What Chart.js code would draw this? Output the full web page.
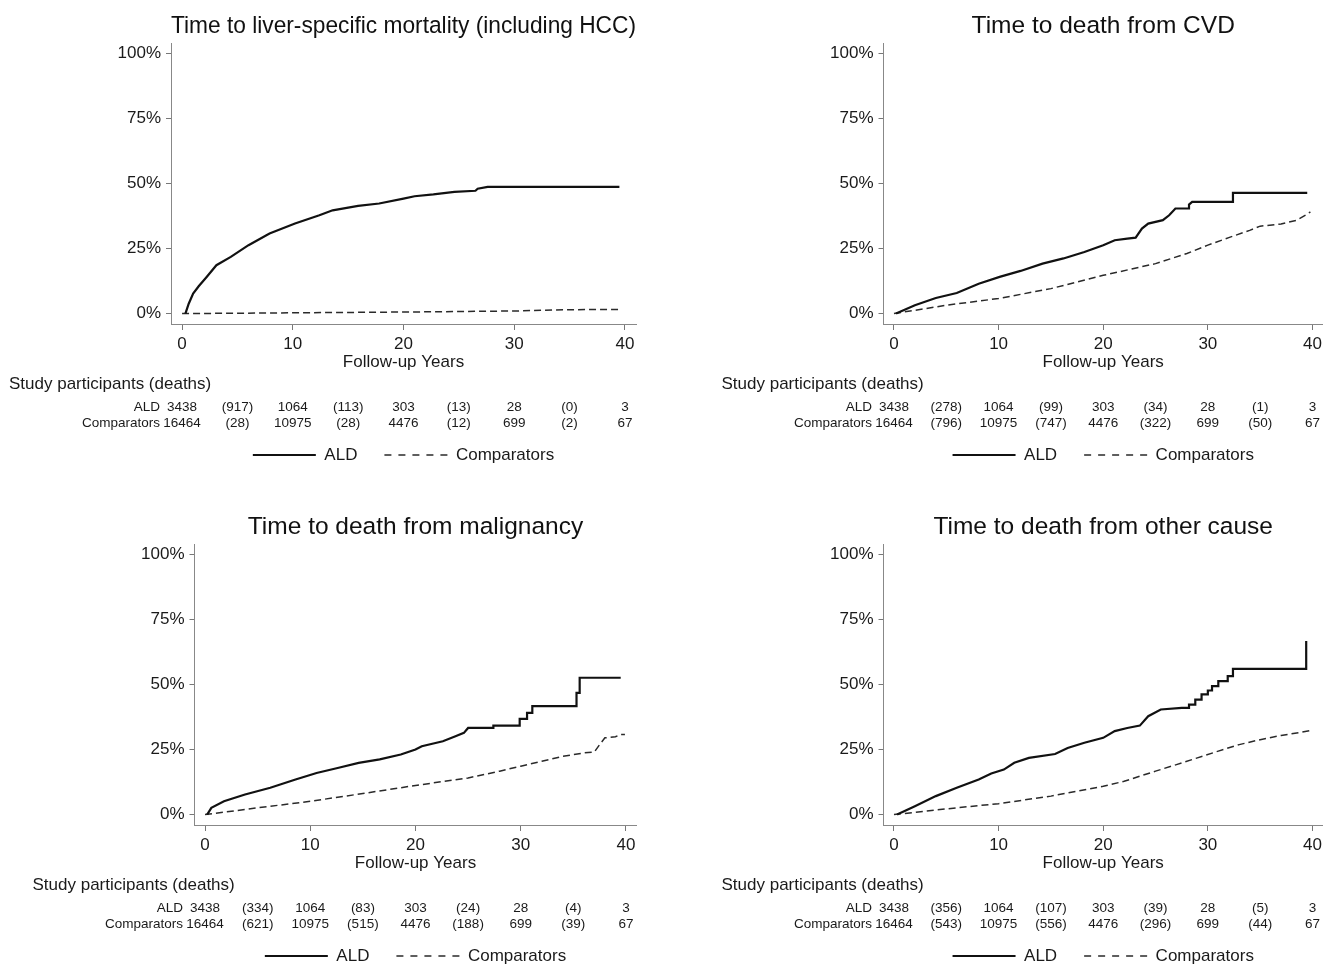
<!DOCTYPE html>
<html>
<head>
<meta charset="utf-8">
<script src="https://cdn.jsdelivr.net/npm/chart.js@4"></script>
<style>
  html, body { margin: 0; padding: 0; background: #fff; overflow: hidden; }
  body { width: 1326px; height: 964px; position: relative; }
  .panel { position: absolute; width: 663px; height: 501px; }
</style>
</head>
<body>
<div class="panel" style="left:0;top:0"><canvas id="liverChart" width="663" height="501"></canvas></div>
<div class="panel" style="left:663px;top:0"><canvas id="cvdChart" width="663" height="501"></canvas></div>
<div class="panel" style="left:0;top:501px"><canvas id="malChart" width="663" height="501"></canvas></div>
<div class="panel" style="left:663px;top:501px"><canvas id="othChart" width="663" height="501"></canvas></div>
<script>
// axis ticks
let xTickValues = [0, 10, 20, 30, 40];
let yTickValues = [0, 25, 50, 75, 100];

// numbers at risk / deaths
let riskYears = [0, 10, 20, 30, 40];
let deathYears = [5, 15, 25, 35];
let aldAtRisk = [3438, 1064, 303, 28, 3];
let compAtRisk = [16464, 10975, 4476, 699, 67];

// liver-specific mortality
let liverAldYears = [0.3, 0.6, 1.0, 1.5, 2.2, 3.1, 4.4, 6.0, 7.9, 10.2, 12.4, 13.6, 15.9, 17.8, 20.0, 21.0, 22.7, 24.6, 26.5, 26.7, 27.6, 39.5];
let liverAldPct = [0, 3.8, 7.7, 10.5, 14.0, 18.6, 21.8, 26.3, 30.8, 34.6, 37.8, 39.7, 41.4, 42.3, 44.2, 45.1, 45.8, 46.8, 47.2, 48.0, 48.7, 48.7];
let liverCompYears = [0, 5, 10, 15, 20, 25, 30, 35, 39.7];
let liverCompPct = [0, 0.15, 0.3, 0.45, 0.6, 0.8, 1.0, 1.5, 1.6];
let liverAldDeaths = [917, 113, 13, 0];
let liverCompDeaths = [28, 28, 12, 2];

// CVD
let cvdAldYears = [0.2, 2.0, 4.0, 6.0, 8.1, 10.1, 12.1, 14.2, 16.2, 18.2, 20.0, 21.1, 22.3, 23.1, 23.7, 24.3, 25.7, 26.3, 26.9, 28.2, 28.2, 28.5, 32.4, 32.4, 39.5];
let cvdAldPct = [0, 3.2, 6.0, 7.9, 11.5, 14.1, 16.4, 19.2, 21.2, 23.7, 26.3, 28.2, 28.8, 29.2, 32.7, 34.6, 35.9, 37.8, 40.4, 40.4, 41.9, 42.9, 42.9, 46.4, 46.4];
let cvdCompYears = [0, 5, 10, 15, 20, 25, 28, 30, 32, 34, 35, 37, 38.5, 39.5, 39.8];
let cvdCompPct = [0, 3.2, 5.8, 9.6, 14.7, 19.2, 23.1, 26.3, 29.2, 32.0, 33.6, 34.4, 35.9, 38.2, 39.1];
let cvdAldDeaths = [278, 99, 34, 1];
let cvdCompDeaths = [796, 747, 322, 50];

// malignancy
let malAldYears = [0.2, 0.6, 1.8, 3.8, 6.2, 8.6, 10.6, 12.6, 14.6, 16.6, 18.6, 20.0, 20.6, 22.6, 23.8, 24.6, 25.0, 27.4, 27.4, 29.9, 29.9, 30.6, 30.6, 31.1, 31.1, 35.3, 35.3, 35.6, 35.6, 39.5];
let malAldPct = [0, 2.6, 5.1, 7.7, 10.3, 13.5, 16.0, 17.9, 19.9, 21.2, 23.1, 25.0, 26.3, 28.2, 30.1, 31.4, 33.3, 33.3, 34.2, 34.2, 36.8, 36.8, 39.1, 39.1, 41.7, 41.7, 46.8, 46.8, 52.6, 52.6];
let malCompYears = [0, 5, 10, 15, 20, 25, 28, 30, 32, 34, 36, 37, 37.5, 38, 39, 39.5, 39.9];
let malCompPct = [0, 2.6, 5.1, 8.1, 11.2, 14.1, 16.7, 18.6, 20.5, 22.4, 23.7, 24.1, 26.9, 29.5, 29.9, 30.8, 30.8];
let malAldDeaths = [334, 83, 24, 4];
let malCompDeaths = [621, 515, 188, 39];

// other cause
let othAldYears = [0.3, 2.0, 4.0, 6.0, 8.1, 9.3, 10.5, 11.5, 12.9, 15.4, 16.6, 18.2, 20.0, 21.1, 22.3, 23.5, 24.3, 25.5, 27.5, 28.2, 28.2, 28.8, 28.8, 29.4, 29.4, 30.0, 30.0, 30.4, 30.4, 31.0, 31.0, 31.9, 31.9, 32.4, 32.4, 39.4, 39.4];
let othAldPct = [0, 3.2, 7.1, 10.3, 13.5, 15.8, 17.3, 19.9, 21.8, 23.3, 25.6, 27.6, 29.5, 32.1, 33.3, 34.2, 37.8, 40.4, 41.0, 41.0, 42.3, 42.3, 44.2, 44.2, 46.2, 46.2, 47.7, 47.7, 49.4, 49.4, 51.3, 51.3, 53.2, 53.2, 56.0, 56.0, 66.7];
let othCompYears = [0, 5, 10, 15, 20, 22, 25, 27, 29, 31, 33, 35, 37, 39, 39.8];
let othCompPct = [0, 2.2, 4.2, 7.1, 10.9, 12.8, 16.7, 19.2, 21.8, 24.4, 26.9, 28.8, 30.4, 31.7, 32.3];
let othAldDeaths = [356, 107, 39, 5];
let othCompDeaths = [543, 556, 296, 44];

const FONT = '"Liberation Sans", Arial, sans-serif';
Chart.defaults.font.family = FONT;
Chart.defaults.color = "#1a1a1a";

const toPoints = (xs, ys) => xs.map((x, i) => ({ x: x, y: ys[i] }));

// numbers at risk table under the x axis
const riskTable = {
  id: "riskTable",
  afterDraw(chart, args, opts) {
    const ctx = chart.ctx;
    const area = chart.chartArea;
    const xs = chart.scales.x;
    const base = area.bottom;
    ctx.save();
    ctx.fillStyle = "#1a1a1a";
    ctx.textBaseline = "middle";
    ctx.textAlign = "left";
    ctx.font = "17px " + FONT;
    ctx.fillText("Study participants (deaths)", area.left - 162, base + 60);
    ctx.font = "13.5px " + FONT;
    const labelX = xs.getPixelForValue(riskYears[0]) - 22;
    const rows = [
      ["ALD", aldAtRisk, opts.aldDeaths],
      ["Comparators", compAtRisk, opts.compDeaths],
    ];
    rows.forEach(([name, atRisk, deaths], r) => {
      const y = base + 83 + r * 16;
      ctx.textAlign = "right";
      ctx.fillText(name, labelX, y);
      ctx.textAlign = "center";
      atRisk.forEach((n, i) => ctx.fillText(String(n), xs.getPixelForValue(riskYears[i]), y));
      deaths.forEach((d, i) => ctx.fillText("(" + d + ")", xs.getPixelForValue(deathYears[i]), y));
    });
    ctx.restore();
  },
};

function makeChart(id, title, ald, comp, aldDeaths, compDeaths, chartLeft, padRight) {
  return new Chart(document.getElementById(id), {
    type: "line",
    data: {
      datasets: [
        {
          label: "ALD",
          data: ald,
          borderColor: "#111111",
          borderWidth: 2.2,
          pointRadius: 0,
          tension: 0,
          fill: false,
        },
        {
          label: "Comparators",
          data: comp,
          borderColor: "#2a2a2a",
          borderWidth: 1.5,
          borderDash: [7, 4],
          pointRadius: 0,
          tension: 0,
          fill: false,
        },
      ],
    },
    options: {
      responsive: false,
      animation: false,
      events: [],
      layout: {
        padding: { left: 0, right: padRight, top: 0, bottom: 27.5 },
      },
      scales: {
        x: {
          type: "linear",
          min: -1,
          max: 41,
          afterBuildTicks: (axis) => {
            axis.ticks = xTickValues.map((v) => ({ value: v }));
          },
          afterFit: (axis) => {
            axis.height = 95.5;
          },
          grid: { display: true, drawOnChartArea: false, drawTicks: true, tickLength: 6, color: "#777" },
          border: { display: true, color: "#888", width: 1 },
          ticks: { font: { size: 17 }, padding: 4, maxRotation: 0, color: "#1a1a1a" },
          title: {
            display: true,
            text: "Follow-up Years",
            font: { size: 17 },
            color: "#1a1a1a",
            padding: { top: 0, bottom: 47 },
          },
        },
        y: {
          min: -4,
          max: 104,
          afterBuildTicks: (axis) => {
            axis.ticks = yTickValues.map((v) => ({ value: v }));
          },
          afterFit: (axis) => {
            axis.width = chartLeft;
          },
          grid: { display: true, drawOnChartArea: false, drawTicks: true, tickLength: 5, color: "#777" },
          border: { display: true, color: "#888", width: 1 },
          ticks: {
            font: { size: 17 },
            padding: 5,
            color: "#1a1a1a",
            callback: (v) => v + "%",
          },
        },
      },
      plugins: {
        title: {
          display: true,
          text: title,
          fullSize: false,
          font: { size: 24.5, weight: "normal" },
          color: "#111",
          padding: { top: 12, bottom: 1.6 },
        },
        legend: {
          position: "bottom",
          fullSize: false,
          labels: {
            usePointStyle: true,
            pointStyleWidth: 63,
            padding: 27,
            font: { size: 17 },
            color: "#1a1a1a",
            generateLabels: (chart) =>
              Chart.defaults.plugins.legend.labels.generateLabels(chart).map((item) => {
                const ds = chart.data.datasets[item.datasetIndex];
                item.pointStyle = "line";
                item.lineWidth = ds.borderWidth;
                item.strokeStyle = ds.borderColor;
                item.lineDash = ds.borderDash ? [7, 7] : [];
                return item;
              }),
          },
        },
        tooltip: { enabled: false },
        riskTable: { aldDeaths: aldDeaths, compDeaths: compDeaths },
      },
    },
    plugins: [riskTable],
  });
}

makeChart("liverChart", "Time to liver-specific mortality (including HCC)",
  toPoints(liverAldYears, liverAldPct), toPoints(liverCompYears, liverCompPct),
  liverAldDeaths, liverCompDeaths, 171, 27);
makeChart("cvdChart", "Time to death from CVD",
  toPoints(cvdAldYears, cvdAldPct), toPoints(cvdCompYears, cvdCompPct),
  cvdAldDeaths, cvdCompDeaths, 220.5, 1.5);
makeChart("malChart", "Time to death from malignancy",
  toPoints(malAldYears, malAldPct), toPoints(malCompYears, malCompPct),
  malAldDeaths, malCompDeaths, 194.5, 26.5);
makeChart("othChart", "Time to death from other cause",
  toPoints(othAldYears, othAldPct), toPoints(othCompYears, othCompPct),
  othAldDeaths, othCompDeaths, 220.5, 1.5);
</script>
</body>
</html>
